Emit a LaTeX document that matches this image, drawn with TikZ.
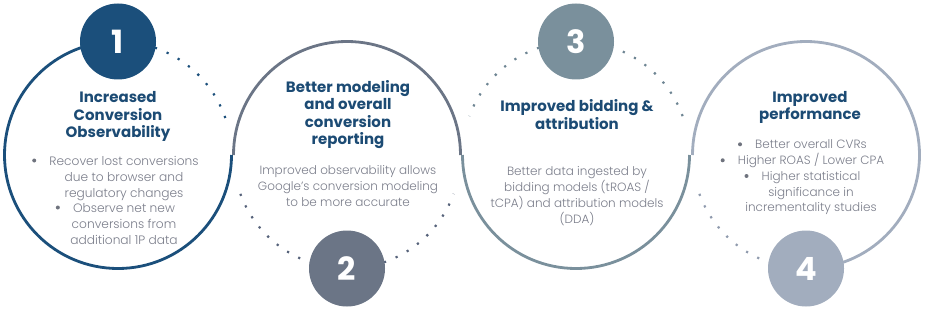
\documentclass[tikz,border=0pt]{standalone}
\usepackage{fontspec}
\setmainfont{Poppins}
\newfontfamily\lightfont{Poppins Light}
\definecolor{colA}{HTML}{1B4F7B}
\definecolor{colB}{HTML}{6B7586}
\definecolor{colC}{HTML}{7A909C}
\definecolor{colD}{HTML}{A2ADBE}
\definecolor{dotA}{HTML}{1B4F7B}
\definecolor{dotB}{HTML}{56627A}
\definecolor{dotC}{HTML}{6E8593}
\definecolor{dotD}{HTML}{8F9AAD}
\definecolor{titleblue}{HTML}{1C4B74}
\definecolor{bodygray}{HTML}{7A7D8A}
\definecolor{bulgray}{HTML}{6F737E}
\begin{document}
\begin{tikzpicture}[x=1pt,y=1pt,
  solidarc/.style={line width=2.8pt},
  dotarc/.style={line width=2.2pt, dash pattern=on 2.2pt off 10.4pt},
  badge/.style={circle, minimum size=76pt, inner sep=0pt, text=white, font=\fontsize{32}{32}\selectfont\bfseries},
  ttl/.style={anchor=base, inner sep=0pt, text=titleblue, font=\fontsize{15}{17}\selectfont\bfseries},
  bodytxt/.style={anchor=base, inner sep=0pt, text=bodygray, font=\lightfont\fontsize{12}{16}\selectfont},
  bigbody/.style={bodytxt, font=\lightfont\fontsize{12.2}{16}\selectfont},
  bul/.style={circle, fill=bulgray, inner sep=0pt, minimum size=4pt}
]
\useasboundingbox (0,0) rectangle (928,311);
\def\R{113.5}
\coordinate (c1) at (118,156);
\coordinate (c2) at (347,156);
\coordinate (c3) at (576,156);
\coordinate (c4) at (806,156);

% solid arcs
\draw[solidarc, colA] ([shift={(90:\R)}]c1) arc[start angle=90, end angle=360, radius=\R];
\draw[solidarc, colB] ([shift={(0:\R)}]c2) arc[start angle=0, end angle=180, radius=\R];
\draw[solidarc, colC] ([shift={(180:\R)}]c3) arc[start angle=180, end angle=360, radius=\R];
\draw[solidarc, colD] ([shift={(-90:\R)}]c4) arc[start angle=-90, end angle=180, radius=\R];

% dotted arcs
\draw[dotarc, dotA] ([shift={(71:\R)}]c1) arc[start angle=71, end angle=17, radius=\R];
\draw[dotarc, dotB] ([shift={(200:\R)}]c2) arc[start angle=200, end angle=251, radius=\R];
\draw[dotarc, dotB] ([shift={(289:\R)}]c2) arc[start angle=289, end angle=340, radius=\R];
\draw[dotarc, dotC] ([shift={(20:\R)}]c3) arc[start angle=20, end angle=71, radius=\R];
\draw[dotarc, dotC] ([shift={(109:\R)}]c3) arc[start angle=109, end angle=160, radius=\R];
\draw[dotarc, dotD] ([shift={(200:\R)}]c4) arc[start angle=200, end angle=251, radius=\R];

% badges
\node[badge, fill=colA] (b1) at ([shift={(90:\R)}]c1) {1};
\node[badge, fill=colB] (b2) at ([shift={(-90:\R)}]c2) {2};
\node[badge, fill=colC] (b3) at ([shift={(90:\R)}]c3) {3};
\node[badge, fill=colD] (b4) at ([shift={(-90:\R)}]c4) {4};

% circle 1 text
\node[ttl] (t1a) at (118,208) {Increased};
\node[ttl] (t1b) at (118,190.7) {Conversion};
\node[ttl] (t1c) at (118,173.4) {Observability};
\node[bigbody] (p1a) at (124,146) {Recover lost conversions};
\node[bigbody] (p1b) at (124,130) {due to browser and};
\node[bigbody] (p1c) at (124,114) {regulatory changes};
\node[bigbody] (p1d) at (124,99) {Observe net new};
\node[bigbody] (p1e) at (124,83) {conversions from};
\node[bigbody] (p1f) at (124,67) {additional 1P data};
\node[bul] (d1a) at ([xshift=-15pt,yshift=4.5pt]p1a.base west) {};
\node[bul] (d1b) at ([xshift=-15pt,yshift=4.5pt]p1d.base west) {};

% circle 2 text
\node[ttl] (t2a) at (348,218.3) {Better modeling};
\node[ttl] (t2b) at (348,201) {and overall};
\node[ttl] (t2c) at (348,183.7) {conversion};
\node[ttl] (t2d) at (348,166.4) {reporting};
\node[bodytxt] (p2a) at (348,137) {Improved observability allows};
\node[bodytxt] (p2b) at (348,121) {Google’s conversion modeling};
\node[bodytxt] (p2c) at (348,105) {to be more accurate};

% circle 3 text
\node[ttl] (t3a) at (577,199.3) {Improved bidding \&};
\node[ttl] (t3b) at (577,182) {attribution};
\node[bodytxt] (p3a) at (577,136) {Better data ingested by};
\node[bodytxt] (p3b) at (577,120) {bidding models (tROAS /};
\node[bodytxt] (p3c) at (577,104) {tCPA) and attribution models};
\node[bodytxt] (p3d) at (577,88) {(DDA)};

% circle 4 text
\node[ttl] (t4a) at (810,208.3) {Improved};
\node[ttl] (t4b) at (810,191) {performance};
\node[bodytxt] (p4a) at (811,162.7) {Better overall CVRs};
\node[bodytxt] (p4b) at (811,146.7) {Higher ROAS / Lower CPA};
\node[bodytxt] (p4c) at (811,131) {Higher statistical};
\node[bodytxt] (p4d) at (811,115) {significance in};
\node[bodytxt] (p4e) at (811,99.3) {incrementality studies};
\node[bul] (d4a) at ([xshift=-15pt,yshift=4pt]p4a.base west) {};
\node[bul] (d4b) at ([xshift=-15pt,yshift=4pt]p4b.base west) {};
\node[bul] (d4c) at ([xshift=-15pt,yshift=4pt]p4c.base west) {};
\end{tikzpicture}
\end{document}
